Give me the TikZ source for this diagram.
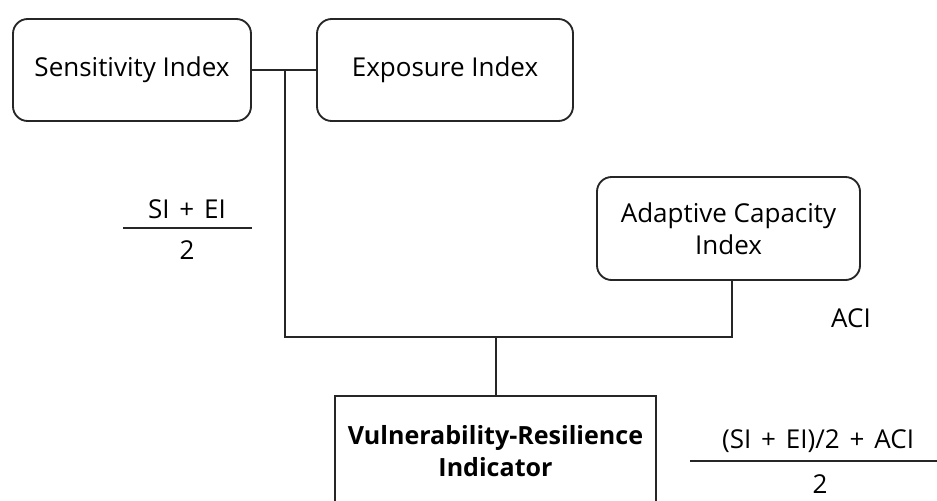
\documentclass[tikz,border=0pt]{standalone}
\usepackage{fontspec}
\setmainfont{Open Sans}
\newcommand{\wsp}{\hspace{0.38em}}
\begin{document}
\begin{tikzpicture}[x=0.75pt,y=-0.75pt,
  line width=1.4pt, draw=black!85,
  rbox/.style={draw, rounded corners=11pt, align=center, inner sep=0pt, font=\fontsize{19.5}{24}\selectfont},
  sbox/.style={draw, align=center, inner sep=0pt, font=\bfseries\fontsize{18.8}{24.5}\selectfont},
  lbl/.style={inner sep=0pt, font=\fontsize{19.5}{24}\selectfont},
  frac/.style={line width=1.4pt}]
\useasboundingbox (0,0) rectangle (937,500);
\clip (0,0) rectangle (937,500);
\node[rbox, minimum width=178.5pt, minimum height=76.5pt] (si) at (132,70) {Sensitivity Index};
\node[rbox, minimum width=192pt, minimum height=76.5pt] (ei) at (445,70) {Exposure Index};
\node[rbox, minimum width=197.25pt, minimum height=77.25pt, text depth=0pt] (aci) at (728.5,228.5) {Adaptive Capacity\\Index};
\node[sbox, minimum width=240.75pt, minimum height=82pt] (vri) at (495.5,451) {Vulnerability-Resilience\\Indicator};
\coordinate (j1) at (285,70);
\coordinate (j2) at (285,337);
\coordinate (j3) at (732,337);
\coordinate (j4) at (496,337);
\draw (si.east) -- (ei.west);
\draw (j1) -- (j2) -- (j3) -- (j3 |- aci.south);
\draw (j4) -- (j4 |- vri.north);
% fraction 1
\node[lbl] (f1n) at (187,209) {SI\wsp+\wsp EI};
\node[lbl] (f1d) at (187,250) {2};
\coordinate (f1a) at (123,228);
\coordinate (f1b) at (252,228);
\draw[frac] (f1a) -- (f1b);
% ACI label
\node[lbl] (acil) at (851,318) {ACI};
% fraction 2
\node[lbl] (f2n) at (818,441) {(SI\wsp+\wsp EI)/2\wsp+\wsp ACI};
\node[lbl] (f2d) at (820,484) {2};
\coordinate (f2a) at (690,461);
\coordinate (f2b) at (940,461);
\draw[frac] (f2a) -- (f2b);
\end{tikzpicture}
\end{document}
